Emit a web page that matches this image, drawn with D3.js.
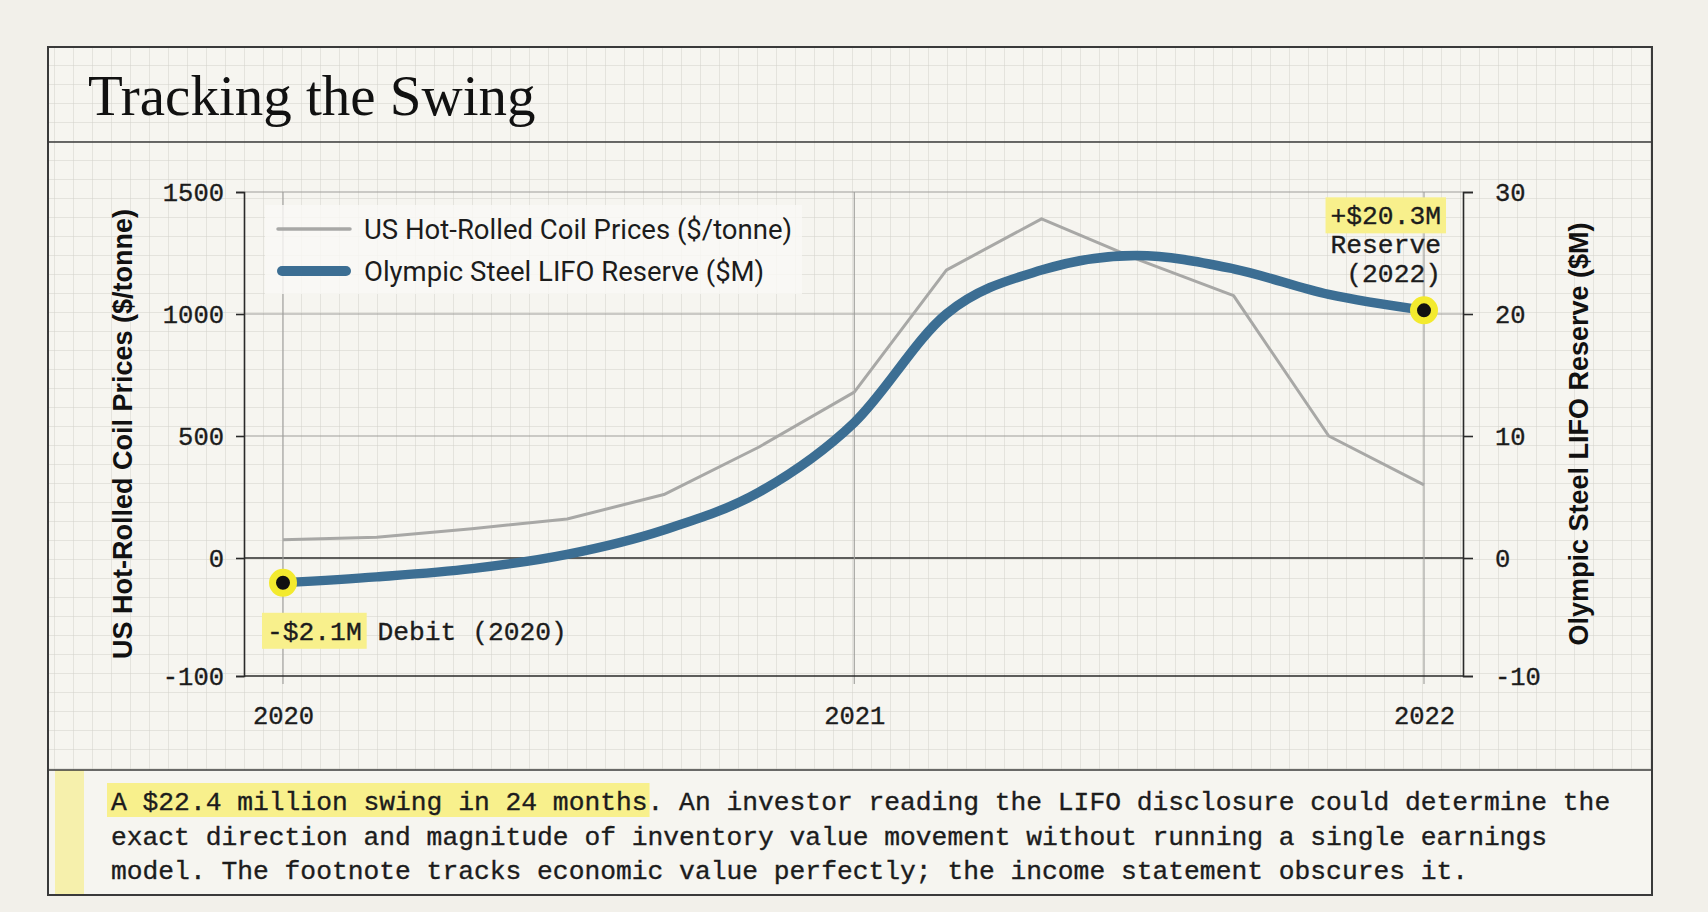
<!DOCTYPE html>
<html><head><meta charset="utf-8">
<script src="https://cdn.jsdelivr.net/npm/d3@7/dist/d3.min.js"></script>
<style>
html,body{margin:0;padding:0;background:#f2f0ea;}
svg{display:block;}
</style></head><body>
<svg id="chart" width="1708" height="912"></svg>
<script>
// ---------- data ----------
const months = ["2020-01","2020-03","2020-05","2020-07","2020-09","2020-11","2021-01","2021-03","2021-05","2021-07","2021-09","2021-11","2022-01"];
const hrcPrices = [75, 85, 120, 160, 260, 455, 680, 1180, 1390, 1225, 1075, 500, 300];
const lifoReserve = [-2.1, -1.6, -0.9, 0.3, 2.3, 5.4, 11.1, 20.0, 23.6, 24.8, 23.7, 21.6, 20.3];
const leftTicks = [-100, 0, 500, 1000, 1500];
const rightTicks = [-10, 0, 10, 20, 30];
const yearTicks = ["2020", "2021", "2022"];
const seriesNames = ["US Hot-Rolled Coil Prices ($/tonne)", "Olympic Steel LIFO Reserve ($M)"];
const titleText = "Tracking the Swing";
const startNote = ["-$2.1M", " Debit (2020)"];
const endNote = ["+$20.3M", "Reserve", "(2022)"];
const captionHighlight = "A $22.4 million swing in 24 months";
const captionLines = [
  "A $22.4 million swing in 24 months. An investor reading the LIFO disclosure could determine the",
  "exact direction and magnitude of inventory value movement without running a single earnings",
  "model. The footnote tracks economic value perfectly; the income statement obscures it."
];

// ---------- layout ----------
const W = 1708, H = 912;
const frame = {x0: 48, y0: 47, x1: 1652, y1: 895, titleY: 142, capY: 770};
const plot = {left: 244, right: 1463, top: 192, bottom: 676, zero: 558, inset: 39};
const MONO = "'Liberation Mono', 'DejaVu Sans Mono', monospace";
const SANS = "'Liberation Sans', Arial, sans-serif";
const COND = "Roboto, 'Liberation Sans', sans-serif";
const SERIF = "'Liberation Serif', 'DejaVu Serif', serif";
const BLUE = "#3c6e93", GRAY = "#a8a8a6", HIL = "#f8f08c", RING = "#f3ea2e", INK = "#1c1c1c";

const svg = d3.select("#chart");
const parse = d3.timeParse("%Y-%m");
const yearParse = d3.timeParse("%Y");
const data = months.map((m, i) => ({date: parse(m), hrc: hrcPrices[i], lifo: lifoReserve[i]}));
const plain = d => String(d);

// ---------- background & grid ----------
const defs = svg.append("defs");
const pat = defs.append("pattern").attr("id", "grid").attr("patternUnits", "userSpaceOnUse")
  .attr("x", 16).attr("y", 8).attr("width", 19).attr("height", 19);
pat.append("rect").attr("width", 19).attr("height", 19).attr("fill", "#f6f5f0");
pat.append("path").attr("d", "M19 0 L0 0 L0 19").attr("fill", "none")
  .attr("stroke", "#d3d2cb").attr("stroke-width", 1);

svg.append("rect").attr("width", W).attr("height", H).attr("fill", "#f2f0ea");
svg.append("rect").attr("x", frame.x0).attr("y", frame.y0)
  .attr("width", frame.x1 - frame.x0).attr("height", frame.y1 - frame.y0)
  .attr("fill", "url(#grid)");

// caption panel
svg.append("rect").attr("x", frame.x0).attr("y", frame.capY)
  .attr("width", frame.x1 - frame.x0).attr("height", frame.y1 - frame.capY)
  .attr("fill", "#f6f5f0");
svg.append("rect").attr("x", frame.x0 + 7).attr("y", frame.capY)
  .attr("width", 29).attr("height", frame.y1 - frame.capY).attr("fill", "#f6f0ac");

// ---------- title ----------
svg.append("text").attr("x", 88).attr("y", 115)
  .attr("font-family", SERIF).attr("font-size", 57).attr("fill", "#111")
  .text(titleText);

// ---------- scales ----------
const x = d3.scaleTime().domain([yearParse(yearTicks[0]), yearParse(yearTicks[yearTicks.length - 1])])
  .range([plot.left + plot.inset, plot.right - plot.inset]);
const yL = d3.scaleLinear().domain([leftTicks[0], 0, leftTicks[leftTicks.length - 1]])
  .range([plot.bottom, plot.zero, plot.top]);
const yR = d3.scaleLinear().domain([rightTicks[0], 0, rightTicks[rightTicks.length - 1]])
  .range([plot.bottom, plot.zero, plot.top]);

// ---------- gridlines ----------
const g = svg.append("g");
g.selectAll("line.hg").data(leftTicks.filter(t => t !== leftTicks[0])).join("line")
  .attr("x1", plot.left).attr("x2", plot.right)
  .attr("y1", d => yL(d)).attr("y2", d => yL(d))
  .attr("stroke", d => d === 0 ? "#2a2a2a" : "#9d9d9a")
  .attr("stroke-width", d => d === 0 ? 1.6 : 1.1);
g.selectAll("line.vg").data(yearTicks).join("line")
  .attr("x1", d => x(yearParse(d))).attr("x2", d => x(yearParse(d)))
  .attr("y1", plot.top).attr("y2", plot.bottom + 8)
  .attr("stroke", "#9d9d9a").attr("stroke-width", 1.1);

// ---------- axes ----------
const axL = svg.append("g").attr("transform", `translate(${plot.left},0)`)
  .call(d3.axisLeft(yL).tickValues(leftTicks).tickFormat(plain).tickSize(8).tickPadding(12));
const axR = svg.append("g").attr("transform", `translate(${plot.right},0)`)
  .call(d3.axisRight(yR).tickValues(rightTicks).tickFormat(plain).tickSize(10).tickPadding(22));
const axB = svg.append("g").attr("transform", `translate(0,${plot.bottom})`)
  .call(d3.axisBottom(x).tickValues(yearTicks.map(yearParse)).tickFormat(d3.timeFormat("%Y"))
    .tickSize(0).tickPadding(30));
axB.select(".domain").remove();
svg.append("line").attr("x1", plot.left).attr("x2", plot.right)
  .attr("y1", plot.bottom).attr("y2", plot.bottom).attr("stroke", "#2a2a2a").attr("stroke-width", 1.6);
[axL, axR, axB].forEach(a => {
  a.selectAll(".domain").attr("stroke", "#2a2a2a").attr("stroke-width", 1.6);
  a.selectAll(".tick line").attr("stroke", "#2a2a2a").attr("stroke-width", 1.6);
  a.selectAll("text").attr("font-family", MONO).attr("font-size", 25.5).attr("fill", INK)
    .attr("stroke", INK).attr("stroke-width", 0.35);
});

// axis titles
svg.append("text").attr("transform", `translate(132,${(plot.top + plot.bottom) / 2}) rotate(-90)`)
  .attr("text-anchor", "middle").attr("font-family", SANS).attr("font-weight", "bold")
  .attr("font-size", 27).attr("fill", "#111").text(seriesNames[0]);
svg.append("text").attr("transform", `translate(1588,${(plot.top + plot.bottom) / 2}) rotate(-90)`)
  .attr("text-anchor", "middle").attr("font-family", SANS).attr("font-weight", "bold")
  .attr("font-size", 27).attr("fill", "#111").text(seriesNames[1]);

// ---------- lines ----------
const hrcLine = d3.line().x(d => x(d.date)).y(d => yL(d.hrc));
const lifoLine = d3.line().x(d => x(d.date)).y(d => yR(d.lifo)).curve(d3.curveMonotoneX);
svg.append("path").datum(data).attr("d", hrcLine).attr("fill", "none")
  .attr("stroke", GRAY).attr("stroke-width", 3).attr("stroke-linejoin", "round");
svg.append("path").datum(data).attr("d", lifoLine).attr("fill", "none")
  .attr("stroke", BLUE).attr("stroke-width", 9.5).attr("stroke-linejoin", "round");

// ---------- legend ----------
const lg = svg.append("g");
lg.append("rect").attr("x", plot.left + 21).attr("y", 205).attr("width", 537).attr("height", 89)
  .attr("fill", "#faf9f6").attr("fill-opacity", 0.8);
lg.append("line").attr("x1", 278).attr("x2", 350).attr("y1", 229).attr("y2", 229)
  .attr("stroke", GRAY).attr("stroke-width", 3.5).attr("stroke-linecap", "round");
lg.append("line").attr("x1", 282).attr("x2", 346).attr("y1", 271).attr("y2", 271)
  .attr("stroke", BLUE).attr("stroke-width", 10).attr("stroke-linecap", "round");
lg.append("text").attr("x", 364).attr("y", 239).attr("font-family", COND).attr("font-size", 27.5)
  .attr("fill", INK).text(seriesNames[0]);
lg.append("text").attr("x", 364).attr("y", 281).attr("font-family", COND).attr("font-size", 27.5)
  .attr("fill", INK).text(seriesNames[1]);

// ---------- annotations ----------
const first = data[0], last = data[data.length - 1];
function monoText(parent, tx, ty, anchor, str) {
  return parent.append("text").attr("x", tx).attr("y", ty).attr("text-anchor", anchor)
    .attr("font-family", MONO).attr("font-size", 26.3).attr("fill", INK)
    .attr("stroke", INK).attr("stroke-width", 0.35).style("white-space", "pre").text(str);
}
function highlightText(parent, tx, ty, anchor, str) {
  const t = monoText(parent, tx, ty, anchor, str);
  const bb = t.node().getBBox();
  parent.insert("rect", () => t.node()).attr("x", bb.x - 5).attr("y", ty - 27)
    .attr("width", bb.width + 10).attr("height", 36).attr("fill", HIL);
  return bb;
}
const an = svg.append("g");
// start note
const sx = x(first.date) - 16, sy = yR(first.lifo) + 57;
const bb1 = highlightText(an, sx, sy, "start", startNote[0]);
monoText(an, bb1.x + bb1.width, sy, "start", startNote[1]);
// end note
const ex = x(last.date) + 17, ey = yR(last.lifo) - 86;
highlightText(an, ex, ey, "end", endNote[0]);
monoText(an, ex, ey + 29, "end", endNote[1]);
monoText(an, ex, ey + 58, "end", endNote[2]);

// dots
svg.selectAll("circle.dot").data([first, last]).join("circle")
  .attr("cx", d => x(d.date)).attr("cy", d => yR(d.lifo)).attr("r", 10.5)
  .attr("fill", "#111").attr("stroke", RING).attr("stroke-width", 7);

// ---------- caption ----------
const cap = svg.append("g");
const capText = cap.selectAll("text").data(captionLines).join("text")
  .attr("x", 111).attr("y", (d, i) => 810 + i * 34.5)
  .attr("font-family", MONO).attr("font-size", 26.3).attr("fill", INK)
  .attr("stroke", INK).attr("stroke-width", 0.35)
  .style("white-space", "pre").text(d => d);
const firstNode = capText.node();
const hlW = firstNode.getSubStringLength(0, captionHighlight.length);
cap.insert("rect", "text").attr("x", 107).attr("y", 783).attr("width", hlW + 6).attr("height", 34)
  .attr("fill", HIL);

// ---------- frame ----------
svg.append("rect").attr("x", frame.x0).attr("y", frame.y0)
  .attr("width", frame.x1 - frame.x0).attr("height", frame.y1 - frame.y0)
  .attr("fill", "none").attr("stroke", "#3a3a3a").attr("stroke-width", 2);
svg.append("line").attr("x1", frame.x0).attr("x2", frame.x1).attr("y1", frame.titleY).attr("y2", frame.titleY)
  .attr("stroke", "#3a3a3a").attr("stroke-width", 1.6);
svg.append("line").attr("x1", frame.x0).attr("x2", frame.x1).attr("y1", frame.capY).attr("y2", frame.capY)
  .attr("stroke", "#3a3a3a").attr("stroke-width", 1.6);
</script>
</body></html>
